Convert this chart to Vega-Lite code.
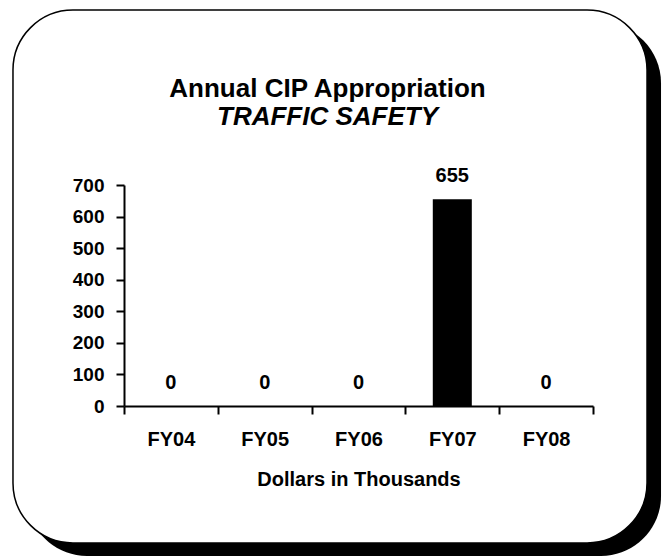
{
  "$schema": "https://vega.github.io/schema/vega-lite/v6.json",
  "width": 469,
  "height": 221,
  "autosize": {"type": "none"},
  "padding": {"left": 124, "top": 185, "right": 77, "bottom": 150},
  "background": "white",
  "title": {
    "text": "Annual CIP Appropriation",
    "subtitle": "TRAFFIC SAFETY",
    "anchor": "middle",
    "frame": "group",
    "dx": -31,
    "offset": -121,
    "font": "Liberation Sans",
    "fontSize": 26,
    "fontWeight": "bold",
    "color": "black",
    "subtitleFont": "Liberation Sans",
    "subtitleFontSize": 26,
    "subtitleFontWeight": "bold",
    "subtitleFontStyle": "italic",
    "subtitleColor": "black",
    "subtitlePadding": 2
  },
  "config": {
    "font": "Liberation Sans",
    "view": {"stroke": null}
  },
  "resolve": {"scale": {"x": "independent", "y": "independent"}, "axis": {"x": "independent", "y": "independent"}},
  "layer": [
    {
      "data": {"values": [{"frame": "card"}]},
      "encoding": {
        "x": {"datum": 0, "type": "quantitative", "scale": {"domain": [0.1751, 0.9148], "nice": false, "zero": false}, "axis": null},
        "x2": {"datum": 1},
        "y": {"datum": 0, "type": "quantitative", "scale": {"domain": [0.2570, 0.6717], "nice": false, "zero": false}, "axis": null},
        "y2": {"datum": 1}
      },
      "layer": [
        {
          "mark": {
            "type": "rect",
            "fill": "black",
            "cornerRadius": 60,
            "xOffset": 14,
            "x2Offset": 14,
            "yOffset": 13,
            "y2Offset": 13
          }
        },
        {
          "mark": {
            "type": "rect",
            "fill": "white",
            "stroke": "black",
            "strokeWidth": 1.5,
            "cornerRadius": 60
          }
        }
      ]
    },
    {
      "data": {"values": [
        {"year": "FY04", "amount": 0},
        {"year": "FY05", "amount": 0},
        {"year": "FY06", "amount": 0},
        {"year": "FY07", "amount": 655},
        {"year": "FY08", "amount": 0}
      ]},
      "encoding": {
        "x": {
          "field": "year",
          "type": "nominal",
          "sort": null,
          "scale": {"paddingInner": 0, "paddingOuter": 0},
          "axis": {
            "title": "Dollars in Thousands",
            "titleFontSize": 20,
            "titleFontWeight": "bold",
            "titleColor": "black",
            "titlePadding": 20,
            "labelAngle": 0,
            "labelFontSize": 20,
            "labelFontWeight": "bold",
            "labelColor": "black",
            "labelPadding": 15,
            "tickBand": "extent",
            "tickSize": 8,
            "tickWidth": 2,
            "tickColor": "black",
            "domainColor": "black",
            "domainWidth": 2,
            "zindex": 2
          }
        },
        "y": {
          "field": "amount",
          "type": "quantitative",
          "scale": {"domain": [0, 700], "nice": false},
          "axis": {
            "title": null,
            "values": [0, 100, 200, 300, 400, 500, 600, 700],
            "grid": false,
            "labelOverlap": false,
            "labelFontSize": 19,
            "labelFontWeight": "bold",
            "labelColor": "black",
            "labelPadding": 12,
            "tickSize": 8,
            "tickWidth": 2,
            "tickColor": "black",
            "domainColor": "black",
            "domainWidth": 2,
            "zindex": 2
          }
        }
      },
      "layer": [
        {
          "mark": {"type": "bar", "color": "black", "width": {"band": 0.416}}
        },
        {
          "mark": {
            "type": "text",
            "fontSize": 20,
            "fontWeight": "bold",
            "color": "black",
            "baseline": "alphabetic",
            "dy": -17
          },
          "encoding": {
            "text": {"field": "amount", "type": "quantitative"}
          }
        }
      ]
    }
  ]
}
